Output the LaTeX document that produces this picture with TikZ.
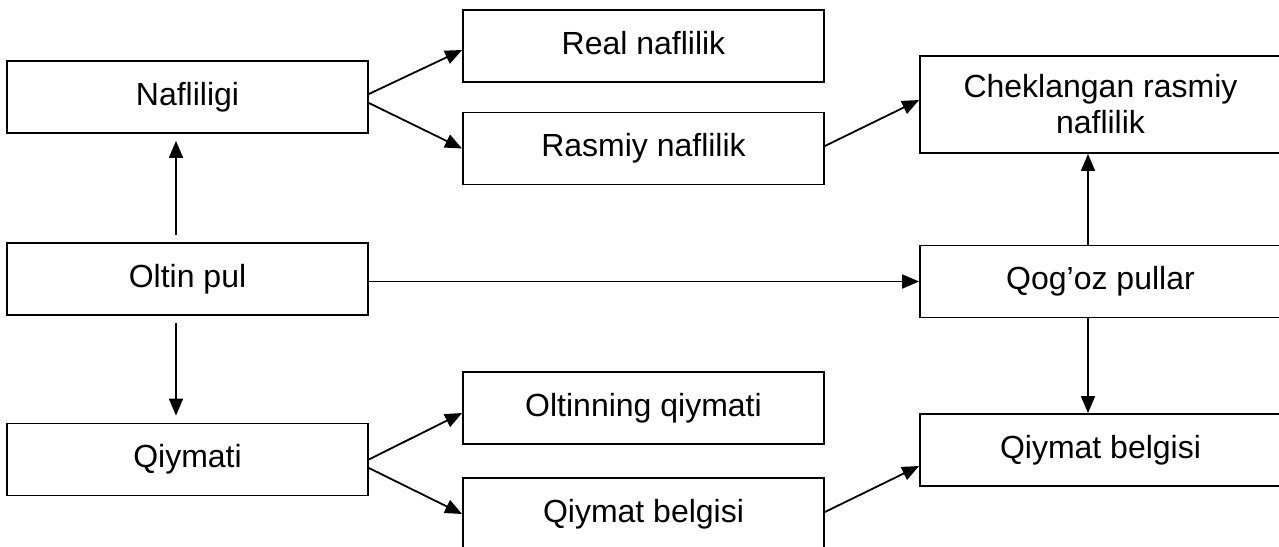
\documentclass[tikz,border=0pt]{standalone}
\usepackage{fontspec}
\setmainfont{Liberation Sans}
\usetikzlibrary{arrows.meta}

\begin{document}
\begin{tikzpicture}[x=1pt, y=-1pt,
      box/.style={rectangle, draw, line width=1.8pt, minimum width=361pt, minimum height=72pt,
         inner sep=0pt, align=center, font=\fontsize{32}{36}\selectfont,
         text height=23pt, text depth=7pt},
      arr/.style={line width=1.8pt, -{Triangle[length=17pt, width=14pt]}}]
      \clip (0,0) rectangle (1279,546);
      % left column
      \node[box] (naf) at (187.5,97) {Nafliligi};
      \node[box] (oltin) at (187.5,279) {Oltin pul};
      \node[box] (qiym) at (187.5,459.5) {Qiymati};
      % middle column
      \node[box] (real) at (643.5,46) {Real naflilik};
      \node[box] (rasmiy) at (643.5,148.5) {Rasmiy naflilik};
      \node[box] (oltq) at (643.5,408) {Oltinning qiymati};
      \node[box] (belgi) at (643.5,514) {Qiymat belgisi};
      % right column
      \node[box, minimum height=97pt, text height=, text depth=] (chek) at (1100.5,104.5) {Cheklangan rasmiy\\naflilik};
      \node[box] (qogoz) at (1100.5,281.5) {Qog’oz pullar};
      \node[box] (belgi2) at (1100.5,450) {Qiymat belgisi};
      \draw[arr] ([yshift=3pt]naf.east) -- ([yshift=-4pt]real.west);
      \draw[arr] ([yshift=-6pt]naf.east) -- (rasmiy.west);
      \draw[arr] ([yshift=2.5pt]rasmiy.east) -- ([yshift=4.5pt]chek.west);
      \draw[arr, shorten <=7pt, shorten >=7pt] ([xshift=-11.5pt]oltin.north) -- ([xshift=-11.5pt]naf.south);
      \draw[arr, shorten <=7pt, shorten >=7pt] ([xshift=-11.5pt]oltin.south) -- ([xshift=-11.5pt]qiym.north);
      \draw[arr] (qogoz.west -| oltin.east) -- (qogoz.west);
      \draw[arr] ([xshift=-12.5pt]qogoz.north) -- ([xshift=-12.5pt]chek.south);
      \draw[arr] ([xshift=-12.5pt]qogoz.south) -- ([xshift=-12.5pt]belgi2.north);
      \draw[arr] (qiym.east) -- ([yshift=-5pt]oltq.west);
      \draw[arr] ([yshift=-8.5pt]qiym.east) -- (belgi.west);
      \draw[arr] ([yshift=2pt]belgi.east) -- ([yshift=-16pt]belgi2.west);
   \end{tikzpicture}
\end{document}
